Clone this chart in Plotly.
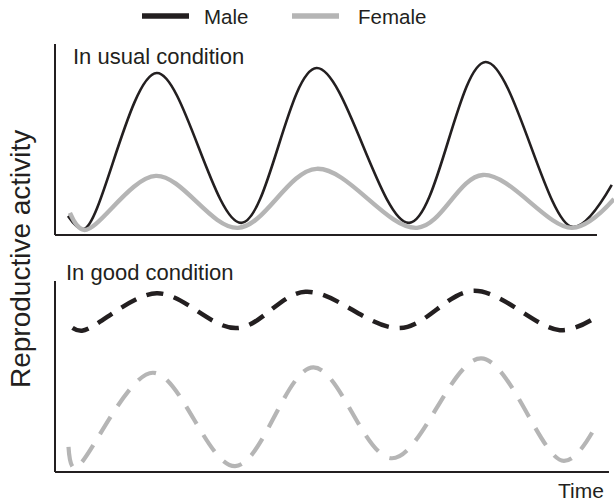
import plotly.graph_objects as go

# ---- data (arbitrary units) ----
male_usual_t = [2.15, 5.0, 18.05, 33.2, 46.7, 63.3, 77.0, 92.5, 99.6]
male_usual_v = [0.99, 0.31, 8.48, 0.63, 8.74, 0.63, 9.06, 0.42, 2.62]

female_usual_t = [2.5, 5.0, 17.9, 32.6, 46.7, 64.7, 76.5, 92.5, 100.0]
female_usual_v = [1.15, 0.26, 3.09, 0.37, 3.46, 0.37, 3.14, 0.37, 1.88]

male_good_t = [2.96, 4.66, 18.05, 32.4, 44.7, 61.6, 74.9, 90.3, 96.2]
male_good_v = [7.55, 7.40, 9.36, 7.54, 9.44, 7.54, 9.49, 7.43, 8.01]

female_good_t = [2.24, 3.3, 17.35, 32.1, 46.1, 60.2, 76.2, 91.0, 97.0]
female_good_v = [1.32, 0.21, 5.2, 0.31, 5.48, 0.72, 5.95, 0.58, 2.55]

series_names = ["Male", "Female"]
panel_titles = ["In usual condition", "In good condition"]
y_title = "Reproductive activity"
x_title = "Time"

BLACK = "#231f20"
GRAY = "#b5b5b5"
FONT = "Liberation Sans, Arial, Helvetica, sans-serif"

fig = go.Figure()

fig.add_trace(go.Scatter(x=male_usual_t, y=male_usual_v, mode="lines",
                         line=dict(color=BLACK, width=2.6, shape="spline", smoothing=1),
                         xaxis="x", yaxis="y", showlegend=False, hoverinfo="skip"))
fig.add_trace(go.Scatter(x=female_usual_t, y=female_usual_v, mode="lines",
                         line=dict(color=GRAY, width=4.4, shape="spline", smoothing=1),
                         xaxis="x", yaxis="y", showlegend=False, hoverinfo="skip"))
fig.add_trace(go.Scatter(x=male_good_t, y=male_good_v, mode="lines",
                         line=dict(color=BLACK, width=4.5, shape="spline", smoothing=1,
                                   dash="17px,11px"),
                         xaxis="x2", yaxis="y2", showlegend=False, hoverinfo="skip"))
fig.add_trace(go.Scatter(x=female_good_t, y=female_good_v, mode="lines",
                         line=dict(color=GRAY, width=4.2, shape="spline", smoothing=1,
                                   dash="20px,13px"),
                         xaxis="x2", yaxis="y2", showlegend=False, hoverinfo="skip"))

top_dom = [0.554, 1.0]
bot_dom = [0.0, 0.446]

ax_common = dict(showgrid=False, zeroline=False, showticklabels=False, ticks="")
fig.update_layout(
    width=614, height=503,
    margin=dict(l=56, r=0, t=44, b=31),
    paper_bgcolor="white", plot_bgcolor="white",
    font=dict(family=FONT, size=20, color=BLACK),
    xaxis=dict(domain=[0, 1], range=[0, 100], anchor="y", **ax_common),
    yaxis=dict(domain=top_dom, range=[0, 10], anchor="x", showline=True,
               linecolor=BLACK, linewidth=2, **ax_common),
    xaxis2=dict(domain=[0, 1], range=[0, 100], anchor="y2", **ax_common),
    yaxis2=dict(domain=bot_dom, range=[0, 10], anchor="x2", showline=True,
                linecolor=BLACK, linewidth=2, **ax_common),
    showlegend=False,
    hovermode=False,
)

# x-axis baselines
fig.add_shape(type="line", xref="paper", yref="paper", x0=-0.0018, x1=0.9695,
              y0=top_dom[0], y1=top_dom[0], line=dict(color=BLACK, width=2))
fig.add_shape(type="line", xref="paper", yref="paper", x0=-0.0018, x1=0.991,
              y0=bot_dom[0], y1=bot_dom[0], line=dict(color=BLACK, width=2))

def px_x(p):
    return (p - 56) / 558

def px_y(p):
    return 1 - (p - 44) / 428

# custom legend (longer swatches than plotly's fixed 30px)
leg_y = px_y(16)
fig.add_shape(type="line", xref="paper", yref="paper", x0=px_x(142), x1=px_x(189),
              y0=leg_y, y1=leg_y, line=dict(color=BLACK, width=5.5))
fig.add_shape(type="line", xref="paper", yref="paper", x0=px_x(292), x1=px_x(339),
              y0=leg_y, y1=leg_y, line=dict(color=GRAY, width=5.5))
for name, xp in zip(series_names, [202, 356]):
    fig.add_annotation(text=name, xref="paper", yref="paper", x=px_x(xp), y=leg_y,
                       xanchor="left", yanchor="middle", showarrow=False,
                       font=dict(size=20.5, color=BLACK))

# panel titles
fig.add_annotation(text=panel_titles[0], xref="paper", yref="paper", x=px_x(71),
                   y=px_y(56), xanchor="left", yanchor="middle",
                   showarrow=False, font=dict(size=22))
fig.add_annotation(text=panel_titles[1], xref="paper", yref="paper", x=px_x(64),
                   y=px_y(272), xanchor="left", yanchor="middle",
                   showarrow=False, font=dict(size=22))

# axis titles
fig.add_annotation(text=y_title, xref="paper", yref="paper", x=px_x(20),
                   y=px_y(259), xanchor="center", yanchor="middle",
                   textangle=-90, showarrow=False, font=dict(size=28))
fig.add_annotation(text=x_title, xref="paper", yref="paper", x=px_x(606),
                   y=px_y(490), xanchor="right", yanchor="middle",
                   showarrow=False, font=dict(size=21))

fig.write_html("out.html", config={"displayModeBar": False, "staticPlot": True},
               post_script="document.body.style.margin='0';")
